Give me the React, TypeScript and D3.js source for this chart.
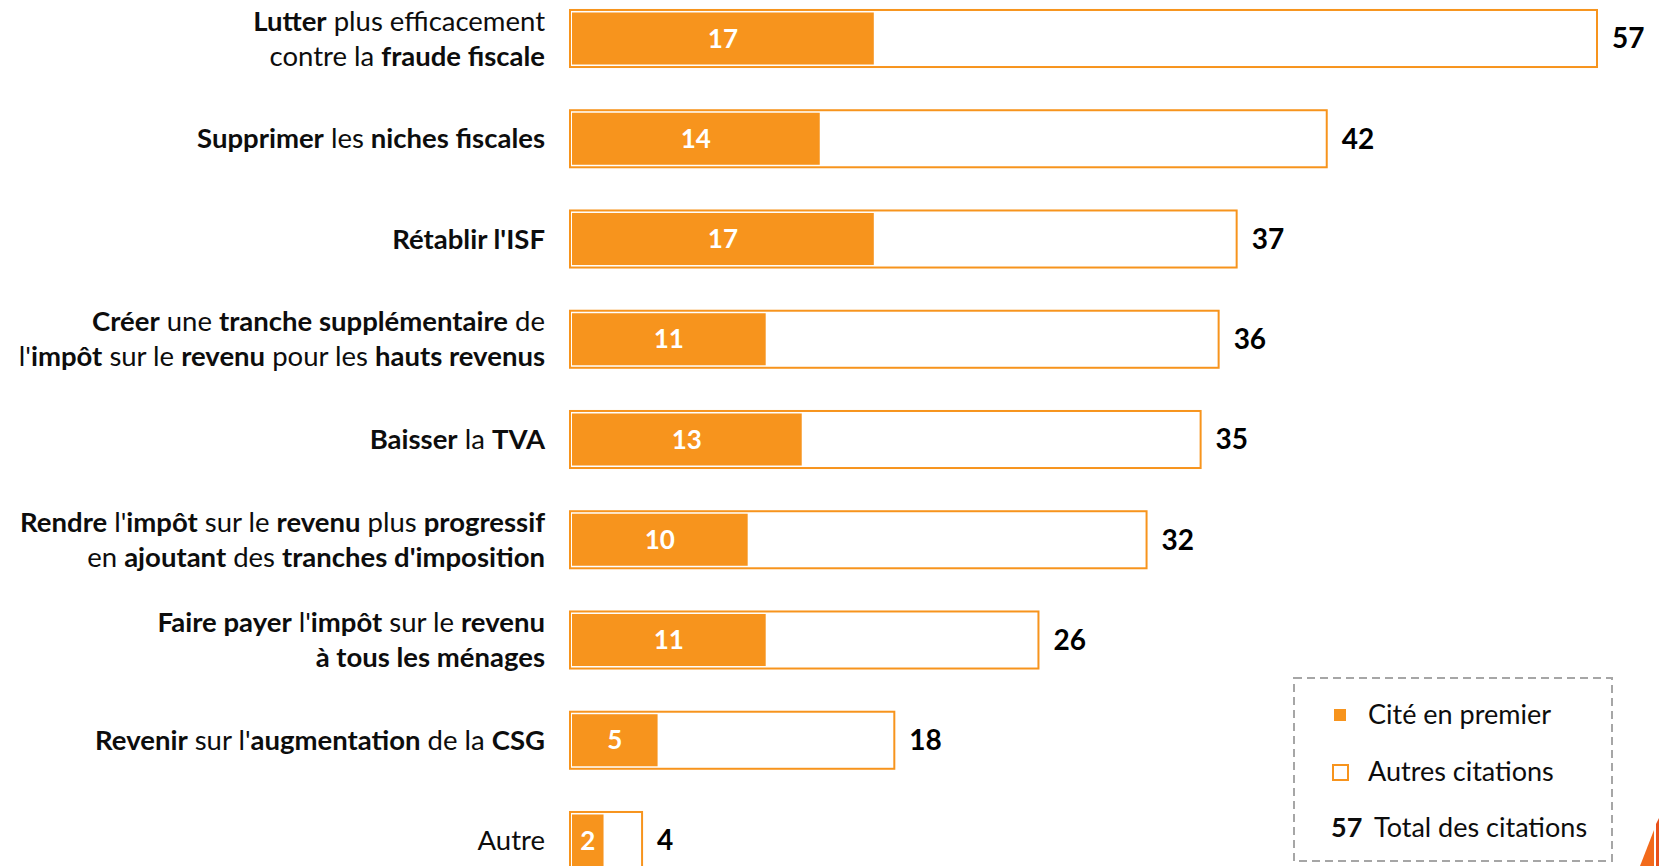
import React from "react";
import * as d3 from "d3";

const categories: string[][] = [
  ["**Lutter** plus efficacement", "contre la **fraude fiscale**"],
  ["**Supprimer** les **niches fiscales**"],
  ["**Rétablir l'ISF**"],
  ["**Créer** une **tranche supplémentaire** de", "l'**impôt** sur le **revenu** pour les **hauts revenus**"],
  ["**Baisser** la **TVA**"],
  ["**Rendre** l'**impôt** sur le **revenu** plus **progressif**", "en **ajoutant** des **tranches d'imposition**"],
  ["**Faire payer** l'**impôt** sur le **revenu**", "**à tous les ménages**"],
  ["**Revenir** sur l'**augmentation** de la **CSG**"],
  ["Autre"],
];
const firstValues: number[] = [17, 14, 17, 11, 13, 10, 11, 5, 2];
const totalValues: number[] = [57, 42, 37, 36, 35, 32, 26, 18, 4];
const legendLabels: string[] = ["Cité en premier", "Autres citations", "Total des citations"];
const legendSample: string = "57";

const W = 1659;
const H = 866;
const ORANGE = "#F7941D";
const FONT = "Lato, 'Open Sans', sans-serif";

function parseSegments(line: string): { t: string; b: boolean }[] {
  const parts = line.split("**");
  return parts.map((t, i) => ({ t, b: i % 2 === 1 })).filter((s) => s.t.length > 0);
}

export default function App() {
  const ids = categories.map((_, i) => String(i));
  const step = 100.25;
  const y = d3
    .scaleBand<string>()
    .domain(ids)
    .range([38.5 - step / 2, 38.5 - step / 2 + step * ids.length])
    .paddingInner(0.431)
    .paddingOuter(0.2155);
  const x = d3.scaleLinear().domain([0, 57]).range([570, 1597]);

  const labelX = 545;
  const lineGap = 35;

  return (
    <svg
      width={W}
      height={H}
      style={{ position: "absolute", left: 0, top: 0, background: "#fff" }}
      fontFamily={FONT}
    >
      <rect x={0} y={0} width={W} height={H} fill="#fff" />
      {categories.map((lines, i) => {
        const y0 = y(ids[i])!;
        const bw = y.bandwidth();
        const cy = y0 + bw / 2;
        const x0 = x(0);
        const xf = x(firstValues[i]);
        const xt = x(totalValues[i]);
        return (
          <g key={i}>
            <rect x={x0} y={y0} width={xt - x0} height={bw} fill="#fff" stroke={ORANGE} strokeWidth={2} />
            <rect x={x0 + 2} y={y0 + 2.5} width={xf - x0 - 4.5} height={bw - 5} fill={ORANGE} />
            <text
              x={(x0 + 2 + xf - 2.5) / 2}
              y={cy}
              dy="0.35em"
              textAnchor="middle"
              fill="#fff"
              fontWeight={700}
              fontSize={26}
            >
              {firstValues[i]}
            </text>
            <text x={xt + 15} y={cy} dy="0.35em" fill="#000" fontWeight={700} fontSize={28}>
              {totalValues[i]}
            </text>
            {lines.map((ln, j) => {
              const ly = cy + (j - (lines.length - 1) / 2) * lineGap;
              return (
                <text key={j} x={labelX} y={ly} dy="0.35em" textAnchor="end" fill="#0d0d0d" fontSize={27.5}>
                  {parseSegments(ln).map((s, k) => (
                    <tspan key={k} fontWeight={s.b ? 700 : 400}>
                      {s.t}
                    </tspan>
                  ))}
                </text>
              );
            })}
          </g>
        );
      })}

      {/* Legend */}
      <rect
        x={1294}
        y={678}
        width={318}
        height={183}
        fill="none"
        stroke="#a6a6a6"
        strokeWidth={2}
        strokeDasharray="8,5"
      />
      <rect x={1334} y={709} width={12} height={12} fill={ORANGE} />
      <text x={1368} y={715} dy="0.35em" fontSize={27} fill="#0d0d0d">
        {legendLabels[0]}
      </text>
      <rect x={1333} y={765} width={15} height={15} fill="#fff" stroke={ORANGE} strokeWidth={2} />
      <text x={1368} y={772} dy="0.35em" fontSize={27} fill="#0d0d0d">
        {legendLabels[1]}
      </text>
      <text x={1331} y={828} dy="0.35em" fontSize={27} fill="#0d0d0d">
        <tspan fontWeight={700}>{legendSample}</tspan>
        <tspan x={1374}>{legendLabels[2]}</tspan>
      </text>

      {/* corner decoration */}
      <polygon points="1640,866 1654,830 1654,866" fill="#F26A1B" />
      <polygon points="1656,866 1656,824 1659,818 1659,866" fill="#E8501A" />
    </svg>
  );
}
